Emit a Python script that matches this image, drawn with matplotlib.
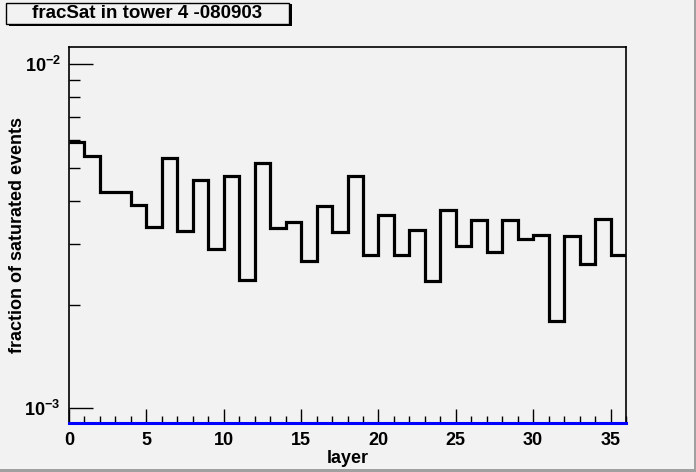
import matplotlib
matplotlib.use("Agg")
import matplotlib.pyplot as plt
from matplotlib.patches import Rectangle
from matplotlib.ticker import LogLocator, FixedLocator, MultipleLocator, NullFormatter

plt.rcParams['font.family'] = ['Liberation Sans', 'DejaVu Sans']
plt.rcParams['mathtext.fontset'] = 'custom'
plt.rcParams['mathtext.bf'] = 'Liberation Sans:bold'
plt.rcParams['mathtext.rm'] = 'Liberation Sans:bold'

# fraction of saturated events per layer
layer_edges = list(range(0, 37))
frac_sat = [0.00592, 0.00540, 0.00425, 0.00425, 0.00389, 0.00336, 0.00532, 0.00327,
            0.00460, 0.00290, 0.00473, 0.00235, 0.00515, 0.00334, 0.00348, 0.00267,
            0.00386, 0.00325, 0.00472, 0.00278, 0.00364, 0.00278, 0.00329, 0.00234,
            0.00376, 0.00296, 0.00352, 0.00284, 0.00352, 0.00310, 0.00318, 0.00179,
            0.00316, 0.00262, 0.00354, 0.00278]
title = "fracSat in tower 4 -080903"
y_major = [1e-3, 1e-2]
y_major_labels = [r'$\mathbf{10^{-3}}$', r'$\mathbf{10^{-2}}$']

bg = '#f2f2f2'
W, H = 696, 472
fig = plt.figure(figsize=(6.96, 4.72), dpi=100, facecolor=bg)
ax = fig.add_axes([69 / W, 1 - 423.3 / H, 557 / W, (423.3 - 46.7) / H])
ax.set_facecolor(bg)

# histogram outline
ax.stairs(frac_sat, layer_edges, baseline=None, color='black', linewidth=2.3, zorder=3)

ax.set_xlim(0, 36)
ax.set_yscale('log')
ax.set_ylim(0.000904, 0.01122)

# blue line along the bottom (empty second histogram)
ax.axhline(0.000904, color='#0000ff', linewidth=2.2, clip_on=False, zorder=5)

# ticks (ROOT style: inside, left/bottom only)
ax.xaxis.set_major_locator(MultipleLocator(5))
ax.xaxis.set_minor_locator(MultipleLocator(1))
ax.yaxis.set_major_locator(FixedLocator(y_major))
ax.set_yticklabels(y_major_labels)
ax.yaxis.set_minor_locator(LogLocator(base=10, subs=range(2, 10)))
ax.yaxis.set_minor_formatter(NullFormatter())
ax.tick_params(axis='x', which='major', direction='in', length=10, width=1, labelsize=13, pad=6)
ax.tick_params(axis='x', which='minor', direction='in', length=5, width=1)
ax.tick_params(axis='y', which='major', direction='in', length=17, width=1, labelsize=13, pad=6)
ax.tick_params(axis='y', which='minor', direction='in', length=8, width=1)
for lab in ax.get_xticklabels():
    lab.set_fontweight('bold')
for sp in ax.spines.values():
    sp.set_linewidth(1.2)

ax.set_xlabel('layer', fontsize=13, fontweight='bold', labelpad=1)
ax.set_ylabel('fraction of saturated events', fontsize=13, fontweight='bold')
ax.yaxis.set_label_coords((26 - 69) / 557, (423.3 - 235) / 376.6)

# title box with shadow
fig.patches.append(Rectangle((9 / W, 1 - 26 / H), 283 / W, 22 / H, transform=fig.transFigure,
                             facecolor='black', edgecolor='none', zorder=1))
fig.patches.append(Rectangle((6 / W, 1 - 23.5 / H), 283 / W, 21 / H, transform=fig.transFigure,
                             facecolor=bg, edgecolor='black', linewidth=1, zorder=2))
fig.text(147 / W, 1 - 13.5 / H, title, fontsize=13.5, fontweight='bold',
         ha='center', va='center', zorder=3)

# canvas bevel on right and bottom
fig.patches.append(Rectangle((1 - 2 / W, 0), 2 / W, 1, transform=fig.transFigure,
                             facecolor='#a0a0a0', edgecolor='none'))
fig.patches.append(Rectangle((0, 0), 1, 3 / H, transform=fig.transFigure,
                             facecolor='#a0a0a0', edgecolor='none'))

fig.savefig('out.png', dpi=100, facecolor=bg)
